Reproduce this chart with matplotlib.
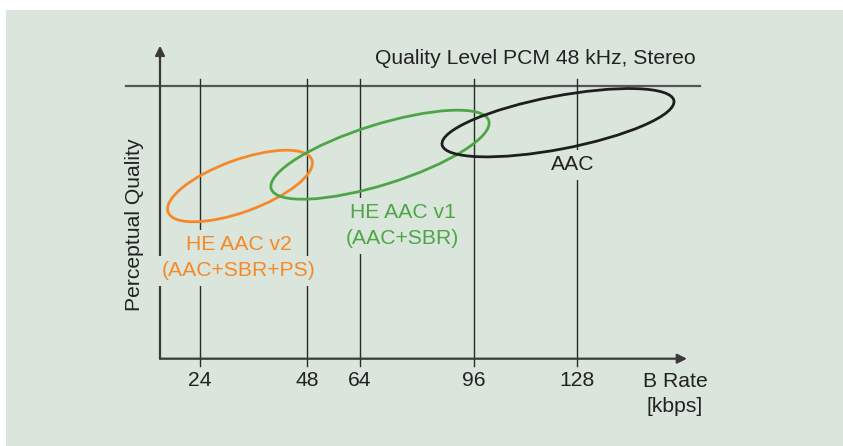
import matplotlib
matplotlib.use("Agg")
import matplotlib.pyplot as plt
from matplotlib.patches import Ellipse, Rectangle

plt.rcParams['font.family'] = ['Liberation Sans', 'DejaVu Sans']

# ---- data (chart units: 1 unit ~ 1 px, origin at the axes corner) ----
rate_labels = ['24', '48', '64', '96', '128']
rate_pos = [39.5, 147, 200, 314, 417]

codec_names = ['HE AAC v2', 'HE AAC v1', 'AAC']
codec_sub = ['(AAC+SBR+PS)', '(AAC+SBR)', '']
codec_colors = ['#f5892a', '#4ea548', '#1e1e1e']
codec_cx = [80, 220, 398]
codec_cy = [172.7, 204, 236]
codec_w = [153, 228, 236]
codec_h = [52, 60, 53]
codec_angle = [20, 17.4, 10.8]
label_x = [78.5, 242.5, 413]
label_y = [113.7, 145.7, 193.7]

quality_level = 273
quality_text = 'Quality Level PCM 48 kHz, Stereo'

BG = '#dae6db'
AXC = '#555555'

fig = plt.figure(figsize=(8.43, 4.46), dpi=100)
fig.patch.set_facecolor('white')
ax = fig.add_axes([0, 0, 1, 1])
ax.set_xlim(-160, 683)
ax.set_ylim(-87.3, 358.7)
ax.axis('off')
ax.add_patch(Rectangle((6 / 843, 0), 1, 1 - 10 / 446, transform=ax.transAxes,
                       facecolor=BG, edgecolor='none', zorder=0))

# axes with arrows
ax.annotate('', xy=(0, 313), xytext=(0, 0),
            arrowprops=dict(arrowstyle='-|>', color='#3a3a3a', lw=1.6,
                            mutation_scale=14, shrinkA=0, shrinkB=0), zorder=2)
ax.annotate('', xy=(527, 0), xytext=(0, 0),
            arrowprops=dict(arrowstyle='-|>', color='#3a3a3a', lw=1.6,
                            mutation_scale=14, shrinkA=0, shrinkB=0), zorder=2)

# quality level line
ax.plot([-34, 540], [quality_level, quality_level], color=AXC, lw=1.6, zorder=1)
ax.text(375, 300.5, quality_text, ha='center', va='center', fontsize=15.2, color='#222222')

# vertical rate lines and tick labels
for p, lab in zip(rate_pos, rate_labels):
    ax.plot([p, p], [-7.5, 279.5], color='#2a2a2a', lw=1.0, zorder=1)
    ax.text(p, -22, lab, ha='center', va='center', fontsize=15.2, color='#222222')

ax.text(515, -23, 'B Rate', ha='center', va='center', fontsize=15.2, color='#222222')
ax.text(515, -48, '[kbps]', ha='center', va='center', fontsize=15.2, color='#222222')
ax.text(-25, 133.7, 'Perceptual Quality', ha='center', va='center', rotation=90,
        fontsize=15.2, color='#222222')

# codec ellipses
for i in range(len(codec_names)):
    ax.add_patch(Ellipse((codec_cx[i], codec_cy[i]), codec_w[i], codec_h[i],
                         angle=codec_angle[i], fill=False, edgecolor=codec_colors[i],
                         lw=2.0, zorder=4))
    box = dict(boxstyle='square,pad=0.25', facecolor=BG, edgecolor='none')
    tcol = codec_colors[i] if codec_colors[i] != '#1e1e1e' else '#222222'
    ax.text(label_x[i], label_y[i], codec_names[i], ha='center', va='center',
            fontsize=15.2, color=tcol, bbox=box, zorder=3)
    if codec_sub[i]:
        ax.text(label_x[i], label_y[i] - 26, codec_sub[i], ha='center', va='center',
                fontsize=15.2, color=tcol, bbox=box, zorder=3)

fig.savefig('out.png', dpi=100, facecolor=fig.get_facecolor())
